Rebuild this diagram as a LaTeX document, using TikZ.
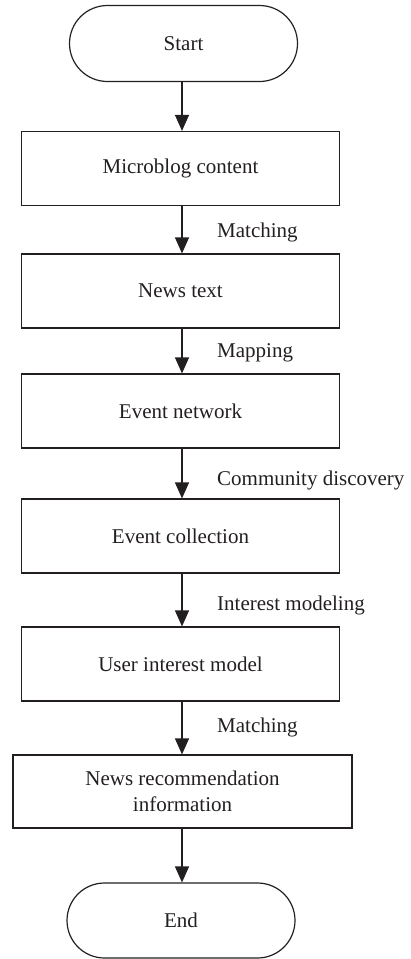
\documentclass[tikz,border=0pt]{standalone}
\usepackage{fontspec}
\setmainfont{Liberation Serif}
\usetikzlibrary{shapes.misc,arrows.meta}
\definecolor{ink}{HTML}{231F20}
\begin{document}
\begin{tikzpicture}[x=1pt,y=-1pt,
  base/.style={draw=ink,line width=1.2pt,text=ink,font=\fontsize{21}{26}\selectfont,align=center,inner sep=0pt},
  termbox/.style={base,rounded rectangle,minimum width=228pt,minimum height=76pt},
  procbox/.style={base,rectangle,minimum width=317.5pt,minimum height=74pt},
  flow/.style={draw=ink,line width=1.2pt,-{Triangle[length=16pt,width=14pt]}},
  lbl/.style={anchor=west,text=ink,font=\fontsize{21}{26}\selectfont,inner sep=0pt}]
\useasboundingbox (0,0) rectangle (410,959);
\node[termbox] (start) at (183.5,43.5) {Start};
\node[procbox] (micro) at (180.5,168.5) {Microblog content};
\node[procbox] (news) at (180.5,291) {News text};
\node[procbox] (evnet) at (180.5,411) {Event network};
\node[procbox] (evcol) at (180.5,536) {Event collection};
\node[procbox] (user) at (180.5,664) {User interest model};
\node[procbox,minimum width=339pt,minimum height=73pt] (rec) at (182.5,791.5) {News recommendation\\information};
\node[termbox,minimum height=75pt] (end) at (181,920.5) {End};
\coordinate (ax) at (182,0);
\draw[flow] (start.south -| ax) -- (micro.north -| ax);
\draw[flow] (micro.south -| ax) -- (news.north -| ax);
\draw[flow] (news.south -| ax) -- (evnet.north -| ax);
\draw[flow] (evnet.south -| ax) -- (evcol.north -| ax);
\draw[flow] (evcol.south -| ax) -- (user.north -| ax);
\draw[flow] (user.south -| ax) -- (rec.north -| ax);
\draw[flow] (rec.south -| ax) -- (end.north -| ax);
\node[lbl] (l1) at (217,232) {Matching};
\node[lbl] (l2) at (217,353) {Mapping};
\node[lbl] (l3) at (217,480) {Community discovery};
\node[lbl] (l4) at (217,605) {Interest modeling};
\node[lbl] (l5) at (217,727) {Matching};
\end{tikzpicture}
\end{document}
